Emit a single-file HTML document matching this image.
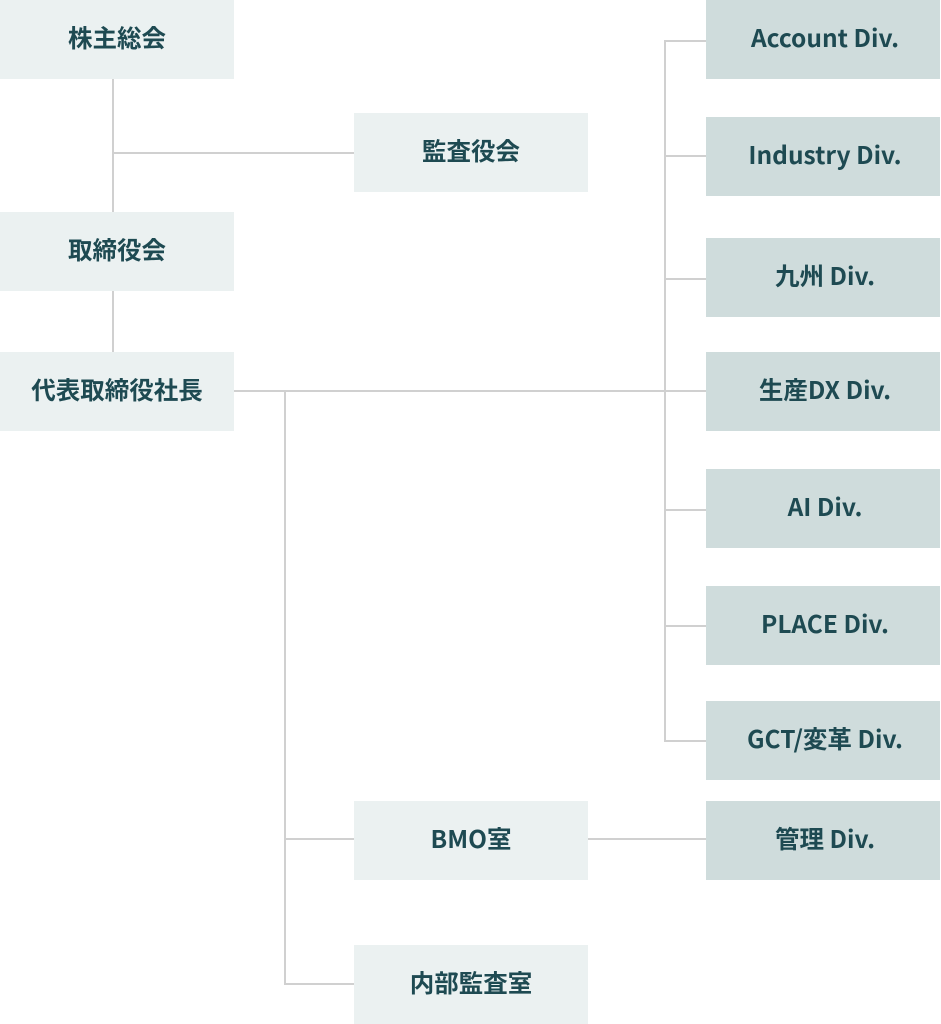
<!DOCTYPE html>
<html>
<head>
<meta charset="utf-8">
<style>
  html, body { margin:0; padding:0; background:#fff; }
  body { width:941px; height:1024px; position:relative; overflow:hidden;
    font-family: "Noto Sans CJK JP", "Liberation Sans", sans-serif; }
  .b { position:absolute; width:234px; height:79px; display:flex; align-items:center; justify-content:center;
    font-weight:700; font-size:24.5px; color:#1e4a52; box-sizing:border-box; padding-bottom:5px; }
  .l { background:#ebf1f1; }
  .r { background:#cfdcdc; padding-left:4px; }
  .h { position:absolute; height:2px; background:#d0d0d0; }
  .v { position:absolute; width:2px; background:#d0d0d0; }
</style>
</head>
<body>
<!-- connectors -->
<div class="v" style="left:112px;top:79px;height:134px;"></div>
<div class="v" style="left:112px;top:291px;height:62px;"></div>
<div class="h" style="left:113px;top:152px;width:241px;"></div>
<div class="h" style="left:234px;top:390px;width:472px;"></div>
<div class="v" style="left:664px;top:40px;height:702px;"></div>
<div class="h" style="left:665px;top:40px;width:41px;"></div>
<div class="h" style="left:665px;top:155px;width:41px;"></div>
<div class="h" style="left:665px;top:278px;width:41px;"></div>
<div class="h" style="left:665px;top:509px;width:41px;"></div>
<div class="h" style="left:665px;top:625px;width:41px;"></div>
<div class="h" style="left:665px;top:740px;width:41px;"></div>
<div class="v" style="left:284px;top:391px;height:594px;"></div>
<div class="h" style="left:285px;top:838px;width:69px;"></div>
<div class="h" style="left:285px;top:983px;width:69px;"></div>
<div class="h" style="left:588px;top:838px;width:118px;"></div>

<!-- left column -->
<div class="b l" style="left:0;top:0;">株主総会</div>
<div class="b l" style="left:0;top:212px;">取締役会</div>
<div class="b l" style="left:0;top:352px;">代表取締役社長</div>

<!-- middle column -->
<div class="b l" style="left:354px;top:113px;">監査役会</div>
<div class="b l" style="left:354px;top:801px;">BMO室</div>
<div class="b l" style="left:354px;top:945px;">内部監査室</div>

<!-- right column -->
<div class="b r" style="left:706px;top:0;">Account Div.</div>
<div class="b r" style="left:706px;top:117px;">Industry Div.</div>
<div class="b r" style="left:706px;top:238px;">九州 Div.</div>
<div class="b r" style="left:706px;top:352px;">生産DX Div.</div>
<div class="b r" style="left:706px;top:469px;">AI Div.</div>
<div class="b r" style="left:706px;top:586px;">PLACE Div.</div>
<div class="b r" style="left:706px;top:701px;">GCT/変革 Div.</div>
<div class="b r" style="left:706px;top:801px;">管理 Div.</div>
</body>
</html>
